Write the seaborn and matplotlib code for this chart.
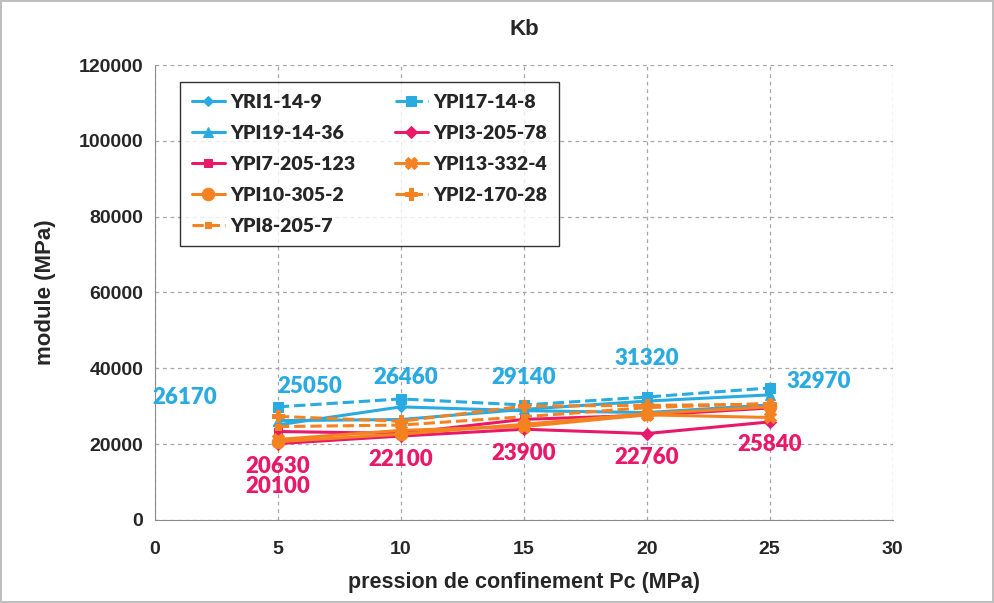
import seaborn as sns
import pandas as pd
import matplotlib.pyplot as plt

# confining pressure (MPa)
pc = [5, 10, 15, 20, 25]

# bulk modulus Kb per sample (MPa)
yri1_14_9 = [25050, 29800, 28800, 28300, 30300]
ypi17_14_8 = [29800, 31900, 30300, 32400, 34800]
ypi19_14_36 = [26170, 26460, 29140, 31320, 32970]
ypi3_205_78 = [20100, 22100, 23900, 22760, 25840]
ypi7_205_123 = [23300, 22800, 26500, 27600, 29500]
ypi13_332_4 = [21200, 23600, 24600, 27700, 27000]
ypi10_305_2 = [20630, 22600, 25200, 28000, 29800]
ypi2_170_28 = [27300, 26000, 30000, 30200, 30500]
ypi8_205_7 = [24600, 25000, 27200, 29600, 30700]

names = ["YRI1-14-9", "YPI17-14-8", "YPI19-14-36", "YPI3-205-78", "YPI7-205-123",
         "YPI13-332-4", "YPI10-305-2", "YPI2-170-28", "YPI8-205-7"]
values = [yri1_14_9, ypi17_14_8, ypi19_14_36, ypi3_205_78, ypi7_205_123,
          ypi13_332_4, ypi10_305_2, ypi2_170_28, ypi8_205_7]

# labels written on the chart
blue_labels = ["26170", "25050", "26460", "29140", "31320", "32970"]
pink_labels = ["20630", "20100", "22100", "23900", "22760", "25840"]

blue = "#29ABE2"
pink = "#E8196A"
orange = "#F58220"
# color, marker, marker size, linestyle
styles = {
    "YRI1-14-9": (blue, "D", 5, "-"),
    "YPI17-14-8": (blue, "s", 7, "--"),
    "YPI19-14-36": (blue, "^", 7, "-"),
    "YPI3-205-78": (pink, "D", 6, "-"),
    "YPI7-205-123": (pink, "s", 6, "-"),
    "YPI13-332-4": (orange, "X", 9, "-"),
    "YPI10-305-2": (orange, "o", 9, "-"),
    "YPI2-170-28": (orange, "P", 9, "--"),
    "YPI8-205-7": (orange, "s", 4, "--"),
}

rows = []
for n, v in zip(names, values):
    for x, y in zip(pc, v):
        rows.append({"Pc": x, "Kb": y, "sample": n})
df = pd.DataFrame(rows)

sns.set_style("white")
plt.rcParams["font.family"] = ["Liberation Sans", "DejaVu Sans"]
plt.rcParams["font.weight"] = "bold"
label_font = ["Lato", "DejaVu Sans"]

fig = plt.figure(figsize=(9.94, 6.03), dpi=100)
fig.patch.set_edgecolor("#BFBFBF")
fig.patch.set_linewidth(1.5)
ax = fig.add_axes([0.156, 0.138, 0.742, 0.754])

handles = {}
for n in names:
    c, m, ms, ls = styles[n]
    d = df[df["sample"] == n]
    sns.lineplot(data=d, x="Pc", y="Kb", ax=ax, color=c, marker=m, markersize=ms,
                 linewidth=2.2, markeredgecolor=c, label=n)
    ax.lines[-1].set_linestyle(ls)
    handles[n] = ax.lines[-1]

ax.set_xlim(0, 30)
ax.set_ylim(0, 120000)
ax.set_xticks(range(0, 31, 5))
ax.set_yticks(range(0, 120001, 20000))
ax.grid(True, linestyle=(0, (3, 3)), color="#A6A6A6", linewidth=0.9)
for s in ["top", "right"]:
    ax.spines[s].set_visible(False)
for s in ["left", "bottom"]:
    ax.spines[s].set_color("#8C8C8C")
ax.tick_params(axis="both", length=5, color="#8C8C8C", labelsize=14, direction="out")
ax.tick_params(axis="x", pad=10)
for lab in ax.get_xticklabels() + ax.get_yticklabels():
    lab.set_fontweight("bold")

ax.set_title("Kb", fontsize=16, fontweight="bold", pad=22)
ax.set_xlabel("pression de confinement Pc (MPa)", fontsize=15.5, fontweight="bold", labelpad=10)
ax.set_ylabel("module (MPa)", fontsize=16, fontweight="bold", labelpad=16)

blue_pos = [(1.2, 32200), (6.3, 35100), (10.2, 37500), (15.0, 37500), (20.0, 42700), (27.0, 36400)]
pink_pos = [(5.0, 14000), (5.0, 8700), (10.0, 15800), (15.0, 17400), (20.0, 16400), (25.0, 19800)]
for t, (x, y) in zip(blue_labels, blue_pos):
    ax.text(x, y, t, color=blue, fontsize=16, fontweight="heavy", family=label_font,
            ha="center", va="center")
for t, (x, y) in zip(pink_labels, pink_pos):
    ax.text(x, y, t, color=pink, fontsize=16, fontweight="heavy", family=label_font,
            ha="center", va="center")

# legend filled row by row like the original
order = ["YRI1-14-9", "YPI19-14-36", "YPI7-205-123", "YPI10-305-2", "YPI8-205-7",
         "YPI17-14-8", "YPI3-205-78", "YPI13-332-4", "YPI2-170-28"]
leg = ax.legend([handles[n] for n in order], order, ncol=2, loc="upper left",
                bbox_to_anchor=(0.034, 0.963), borderaxespad=0,
                prop={"family": label_font, "size": 14, "weight": "heavy"},
                frameon=True, fancybox=False, edgecolor="black", borderpad=0.6,
                columnspacing=2.0, handlelength=1.7, handletextpad=0.3, labelspacing=0.72)
leg.get_frame().set_linewidth(1.0)

fig.savefig("out.png", dpi=100)
